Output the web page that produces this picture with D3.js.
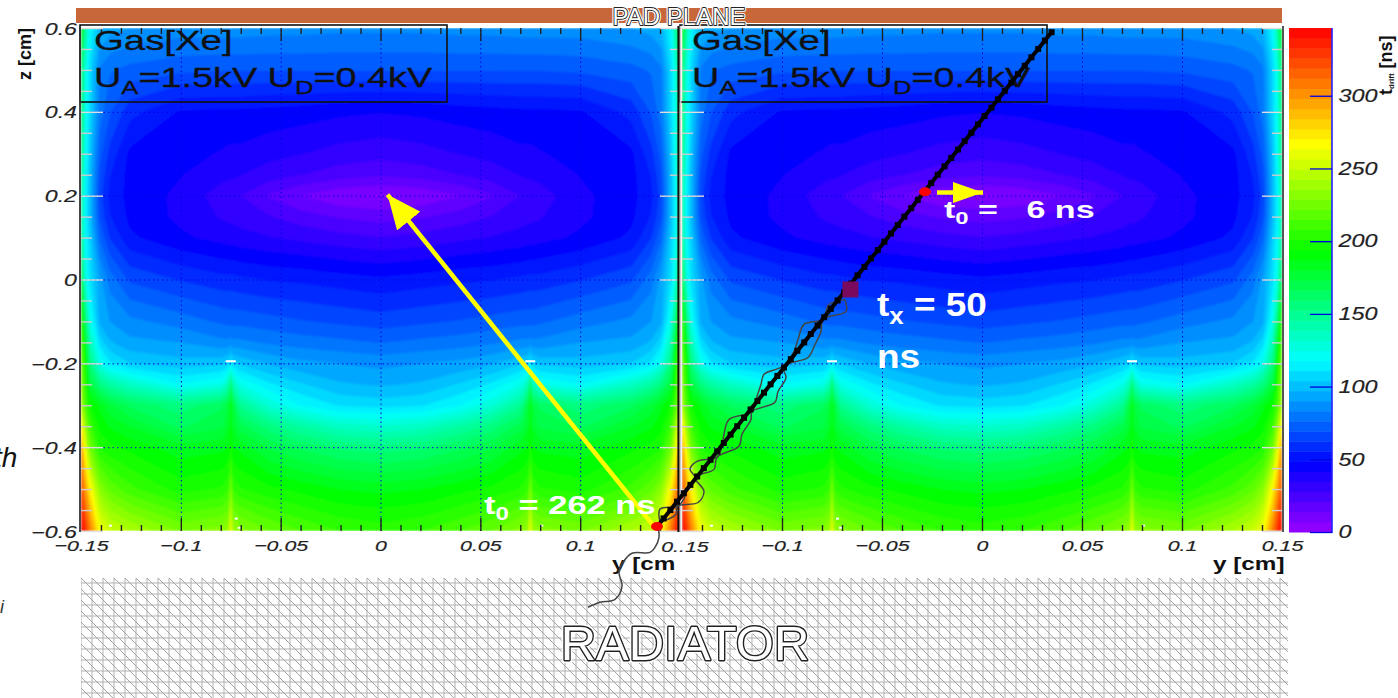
<!DOCTYPE html>
<html lang="en">
<head>
<meta charset="UTF-8">
<title>Drift time map</title>
<script src="https://cdnjs.cloudflare.com/ajax/libs/d3/7.8.5/d3.min.js"></script>
<style>
    html, body { margin: 0; padding: 0; background: #fff; overflow: hidden; }
    svg { display: block; font-family: "Liberation Sans", Arial, sans-serif; }
    .tick text { font-style: italic; fill: #222; stroke: #222; stroke-width: 0.15; }
    .domain { display: none; }
</style>
</head>
<body>
<div id="chart"></div>
<script>
// drift time grid: half of a cell, the other half is its mirror image
const gridY = [-0.15, -0.148, -0.1455, -0.1405, -0.1355, -0.1255, -0.1005, -0.0795, -0.076, -0.075, -0.074, -0.0705, -0.0555, -0.0405, -0.0205, 0];
const gridZ = [0.6, 0.5, 0.4, 0.3, 0.25, 0.2, 0.15, 0.1, 0, -0.1, -0.15, -0.2, -0.25, -0.3, -0.35, -0.4, -0.5, -0.6];
const driftTime = [
    [192, 150, 118,  97,  93,  90,  87,  87,  87,  87,  87,  87,  86,  86,  85,  85],
    [165, 130, 108,  82,  77,  74,  71,  70,  70,  70,  70,  70,  70,  70,  70,  70],
    [170, 125, 108,  80,  70,  58,  48,  47,  47,  47,  47,  47,  46,  45,  43,  42],
    [160, 125, 102,  72,  60,  47,  44,  41,  40,  40,  40,  40,  37,  35,  32,  30],
    [155, 120, 100,  68,  56,  46,  42,  37,  36,  36,  36,  35,  31,  28,  24,  22],
    [150, 118, 100,  65,  54,  46,  40,  31,  30,  30,  30,  28,  20,  14,   8,   6],
    [150, 118, 100,  68,  56,  47,  40,  34,  33,  33,  33,  32,  28,  24,  20,  18],
    [155, 120, 105,  75,  62,  50,  43,  39,  38,  38,  38,  37,  35,  33,  30,  28],
    [180, 130, 110,  92,  80,  68,  62,  58,  58,  58,  58,  57,  55,  54,  52,  50],
    [210, 165, 125,  95,  90,  85,  80,  75,  74,  74,  74,  74,  72,  70,  68,  66],
    [215, 185, 140, 108,  98,  92,  90,  85,  85,  86,  85,  85,  82,  80,  78,  76],
    [225, 200, 155, 125, 112, 104, 100, 102, 106, 116, 106, 103,  96,  92,  90,  88],
    [235, 205, 175, 155, 145, 135, 118, 125, 140, 165, 140, 125, 112, 105,  98,  96],
    [245, 215, 195, 185, 175, 165, 155, 165, 175, 188, 175, 150, 130, 118, 110, 108],
    [275, 240, 210, 192, 186, 180, 165, 172, 180, 192, 180, 170, 155, 145, 135, 132],
    [300, 262, 225, 200, 196, 192, 183, 185, 188, 198, 188, 185, 172, 165, 158, 155],
    [325, 300, 270, 232, 220, 210, 198, 202, 208, 232, 208, 202, 196, 192, 187, 185],
    [345, 335, 310, 265, 252, 243, 228, 232, 238, 270, 238, 232, 222, 215, 208, 205]
];

// colour palette of the bar
const paletteValues = [0, 47, 118, 192, 267, 346];
const paletteColors = ["#9900ff", "#0000ff", "#00ffff", "#00ff00", "#ffff00", "#ff0000"];
const bandCount = 50;
const barMax = 346.6;
const barTicks = [0, 50, 100, 150, 200, 250, 300];

// axes
const majorZ = [-0.6, -0.4, -0.2, 0, 0.2, 0.4, 0.6];
const minorZ = [-0.55, -0.5, -0.45, -0.35, -0.3, -0.25, -0.15, -0.1, -0.05, 0.05, 0.1, 0.15, 0.25, 0.3, 0.35, 0.45, 0.5, 0.55];
const majorY = [-0.15, -0.1, -0.05, 0, 0.05, 0.1, 0.15];
const minorY = [-0.14, -0.13, -0.12, -0.11, -0.09, -0.08, -0.07, -0.06, -0.04, -0.03, -0.02, -0.01,
    0.01, 0.02, 0.03, 0.04, 0.06, 0.07, 0.08, 0.09, 0.11, 0.12, 0.13, 0.14];
const leftLabels = [-0.15, -0.1, -0.05, 0, 0.05, 0.1];
const rightLabels = [-0.1, -0.05, 0, 0.05, 0.1, 0.15];

// anode wires and the small white specks next to them
const wireY = [-0.075, 0.075];
const specks = [[-0.136, -0.585], [-0.073, -0.568], [-0.0715, -0.59], [0.08, -0.585]];

// electron track, in the coordinates of the right hand cell
const trackY = [-0.1625, -0.1592, -0.1558, -0.1525, -0.1491, -0.1458, -0.1424, -0.1391, -0.1357, -0.1324,
    -0.1291, -0.1257, -0.1224, -0.119, -0.1157, -0.1123, -0.109, -0.1057, -0.1023, -0.099,
    -0.0956, -0.0923, -0.0889, -0.0856, -0.0822, -0.0789, -0.0756, -0.0722, -0.0689, -0.0655,
    -0.0622, -0.0588, -0.0555, -0.0521, -0.0488, -0.0455, -0.0421, -0.0388, -0.0354, -0.0321,
    -0.0287, -0.0254, -0.0221, -0.0187, -0.0154, -0.012, -0.0087, -0.0053, -0.002, 0.0013,
    0.0047, 0.008, 0.0114, 0.0147, 0.018, 0.0214, 0.0247, 0.0281, 0.0314, 0.0348];
const trackZ = [-0.59, -0.57, -0.55, -0.53, -0.51, -0.49, -0.47, -0.45, -0.43, -0.41,
    -0.39, -0.37, -0.35, -0.33, -0.31, -0.29, -0.27, -0.25, -0.23, -0.21,
    -0.19, -0.17, -0.15, -0.13, -0.11, -0.09, -0.07, -0.05, -0.03, -0.01,
    0.01, 0.03, 0.05, 0.07, 0.09, 0.11, 0.13, 0.15, 0.17, 0.19,
    0.21, 0.23, 0.25, 0.27, 0.29, 0.31, 0.33, 0.35, 0.37, 0.39,
    0.41, 0.43, 0.45, 0.47, 0.49, 0.51, 0.53, 0.55, 0.57, 0.59];

// the two twisted strands around the track and the tail into the radiator
const strandA = [[-0.161, -0.579], [-0.161, -0.548], [-0.1525, -0.541], [-0.149, -0.524], [-0.148, -0.501],
    [-0.1435, -0.472], [-0.146, -0.453], [-0.1425, -0.434], [-0.1325, -0.424], [-0.13, -0.398], [-0.129, -0.369],
    [-0.1265, -0.334], [-0.115, -0.315], [-0.1125, -0.279], [-0.1105, -0.25], [-0.109, -0.226], [-0.0995, -0.207],
    [-0.094, -0.172], [-0.092, -0.143], [-0.089, -0.107], [-0.0795, -0.095], [-0.0765, -0.06], [-0.0685, -0.048]];
const strandB = [[-0.161, -0.579], [-0.153, -0.56], [-0.1525, -0.541], [-0.142, -0.532], [-0.139, -0.505],
    [-0.1435, -0.472], [-0.134, -0.453], [-0.1325, -0.424], [-0.1215, -0.398], [-0.12, -0.369], [-0.1155, -0.334],
    [-0.115, -0.315], [-0.1035, -0.293], [-0.102, -0.267], [-0.098, -0.234], [-0.0995, -0.207], [-0.087, -0.186],
    [-0.0835, -0.155], [-0.0805, -0.124], [-0.0795, -0.095], [-0.068, -0.076], [-0.0685, -0.048]];
const tail = [[-0.162, -0.589], [-0.1615, -0.615], [-0.1635, -0.639], [-0.166, -0.651], [-0.175, -0.653],
    [-0.1795, -0.675], [-0.1815, -0.698], [-0.18, -0.732], [-0.1835, -0.763], [-0.191, -0.77], [-0.197, -0.782]];

// start of the track and the point the small arrow leaves from
const redDots = [[-0.1625, -0.589], [-0.0285, 0.2092]];

const width = 1398;
const height = 698;
const plotTop = 28;
const plotBottom = 531;

const svg = d3.select("#chart").append("svg").attr("width", width).attr("height", height);
const defs = svg.append("defs");

const soften = defs.append("filter").attr("id", "soften")
    .attr("filterUnits", "userSpaceOnUse")
    .attr("x", 0).attr("y", 0).attr("width", width).attr("height", height);
soften.append("feGaussianBlur").attr("stdDeviation", 0.9);

const zScale = d3.scaleLinear().domain([-0.6, 0.6]).range([plotBottom, plotTop]);
const leftY = d3.scaleLinear().domain([-0.15, 0.15]).range([81, 680]);
const rightY = d3.scaleLinear().domain([-0.15, 0.15]).range([682, 1282]);
const barScale = d3.scaleLinear().domain([0, barMax]).range([532, 28]);
const palette = d3.scaleLinear().domain(paletteValues).range(paletteColors).clamp(true);
const bandSize = barMax / bandCount;

function fmt(d) {
    return String(d).replace("-", "\u2212");
}

// mirror the half grid so a whole cell can be contoured
const fullY = gridY.concat(gridY.slice(0, -1).reverse().map(d => -d));
const cells = [];
driftTime.forEach(row => {
    row.concat(row.slice(0, -1).reverse()).forEach(v => cells.push(v));
});
const nx = fullY.length;
const ny = gridZ.length;
const bands = d3.contours()
    .size([nx, ny])
    .thresholds(d3.range(1, bandCount).map(i => i * bandSize))
    .smooth(true)(cells);

function drawPanel(id, yScale, boxX, textX) {
    const clipRange = yScale.range();
    defs.append("clipPath").attr("id", id)
        .append("rect")
        .attr("x", clipRange[0]).attr("y", plotTop)
        .attr("width", clipRange[1] - clipRange[0]).attr("height", plotBottom - plotTop);

    const g = svg.append("g");
    const field = g.append("g").attr("clip-path", `url(#${id})`);
    const soft = field.append("g").attr("filter", "url(#soften)");

    // contour vertices live at index + 0.5 in grid space
    const colScale = d3.scaleLinear().domain(d3.range(nx)).range(fullY.map(yScale)).clamp(true);
    const rowScale = d3.scaleLinear().domain(d3.range(ny)).range(gridZ.map(zScale)).clamp(true);
    const path = d3.geoPath(d3.geoTransform({
        point(x, y) { this.stream.point(colScale(x - 0.5), rowScale(y - 0.5)); }
    }));

    soft.append("rect")
        .attr("x", clipRange[0]).attr("y", plotTop)
        .attr("width", clipRange[1] - clipRange[0]).attr("height", plotBottom - plotTop)
        .attr("fill", palette(bandSize / 2));
    soft.selectAll("path.band")
        .data(bands)
        .enter().append("path")
        .attr("class", "band")
        .attr("d", path)
        .attr("fill", d => palette(d.value + bandSize / 2));

    // wires and specks
    field.selectAll("rect.wire")
        .data(wireY)
        .enter().append("rect")
        .attr("class", "wire")
        .attr("x", d => yScale(d) - 5).attr("y", zScale(-0.195) - 1)
        .attr("width", 10).attr("height", 2).attr("fill", "#fff");
    field.selectAll("rect.speck")
        .data(specks)
        .enter().append("rect")
        .attr("class", "speck")
        .attr("x", d => yScale(d[0])).attr("y", d => zScale(d[1]))
        .attr("width", 3).attr("height", 2).attr("fill", "#fff");

    // dotted grid
    g.append("g")
        .attr("transform", `translate(0,${plotBottom})`)
        .call(d3.axisBottom(yScale).tickValues(majorY.slice(1, -1)).tickSize(-(plotBottom - plotTop)).tickFormat(""))
        .selectAll("line").attr("stroke", "#0000e0").attr("stroke-width", 1).attr("stroke-dasharray", "1.5,3");
    g.append("g")
        .attr("transform", `translate(${clipRange[0]},0)`)
        .call(d3.axisRight(zScale).tickValues(majorZ.slice(1, -1)).tickSize(clipRange[1] - clipRange[0]).tickFormat(""))
        .selectAll("line").attr("stroke", "#0000e0").attr("stroke-width", 1).attr("stroke-dasharray", "1.5,3");

    // ticks on all four sides
    function ticks(axis, transform, color, w) {
        g.append("g").attr("transform", transform)
            .call(axis.tickFormat(""))
            .selectAll("line").attr("stroke", color).attr("stroke-width", w);
    }
    ticks(d3.axisTop(yScale).tickValues(majorY.slice(1, -1)).tickSize(-13), `translate(0,${plotTop})`, "#222", 1.4);
    ticks(d3.axisTop(yScale).tickValues(minorY).tickSize(-6), `translate(0,${plotTop})`, "#222", 1.4);
    ticks(d3.axisBottom(yScale).tickValues(majorY.slice(1, -1)).tickSize(-13), `translate(0,${plotBottom})`, "#222", 1.4);
    ticks(d3.axisBottom(yScale).tickValues(minorY).tickSize(-6), `translate(0,${plotBottom})`, "#222", 1.4);
    ticks(d3.axisLeft(zScale).tickValues(majorZ).tickSize(-22), `translate(${clipRange[0]},0)`, "#ddd", 1.4);
    ticks(d3.axisLeft(zScale).tickValues(minorZ).tickSize(-11), `translate(${clipRange[0]},0)`, "#ccc", 1.4);
    ticks(d3.axisRight(zScale).tickValues(majorZ).tickSize(-20), `translate(${clipRange[1]},0)`, "#ddd", 1.4);
    ticks(d3.axisRight(zScale).tickValues(minorZ).tickSize(-10), `translate(${clipRange[1]},0)`, "#ccc", 1.4);

    // legend box
    g.append("rect")
        .attr("x", boxX).attr("y", 25).attr("width", 367).attr("height", 77)
        .attr("fill", "none").attr("stroke", "#111").attr("stroke-width", 1.6);
    g.append("text")
        .attr("transform", `translate(${textX},50) scale(1.37,1)`)
        .attr("font-size", 28).attr("fill", "#111").attr("stroke", "#111").attr("stroke-width", 0.3)
        .text("Gas[Xe]");
    const ua = g.append("text")
        .attr("transform", `translate(${textX},87) scale(1.35,1)`)
        .attr("font-size", 28).attr("fill", "#111").attr("stroke", "#111").attr("stroke-width", 0.3);
    ua.append("tspan").text("U");
    ua.append("tspan").attr("font-size", 19).attr("dy", 7).text("A");
    ua.append("tspan").attr("dy", -7).text("=1.5kV U");
    ua.append("tspan").attr("font-size", 19).attr("dy", 7).text("D");
    ua.append("tspan").attr("dy", -7).text("=0.4kV");
}

// radiator mesh
const mesh = svg.append("g");
defs.append("clipPath").attr("id", "meshClip")
    .append("rect").attr("x", 81).attr("y", 578).attr("width", 1207).attr("height", 120);
const meshLines = mesh.append("g").attr("clip-path", "url(#meshClip)");
meshLines.selectAll("line.v").data(d3.range(81, 1290, 11)).enter().append("line")
    .attr("x1", d => d).attr("x2", d => d).attr("y1", 578).attr("y2", 698)
    .attr("stroke", "#c4c4c4").attr("stroke-width", 1.3);
meshLines.selectAll("line.h").data(d3.range(583, 700, 11)).enter().append("line")
    .attr("x1", 81).attr("x2", 1288).attr("y1", d => d).attr("y2", d => d)
    .attr("stroke", "#b0b0b0").attr("stroke-width", 1.2);
meshLines.selectAll("line.d").data(d3.range(81 - 132, 1290, 11)).enter().append("line")
    .attr("x1", d => d).attr("x2", d => d + 121).attr("y1", 578).attr("y2", 699)
    .attr("stroke", "#a4a4a4").attr("stroke-width", 1);

drawPanel("clipLeft", leftY, 80, 94);
drawPanel("clipRight", rightY, 680, 692);

// panel frames
const frames = [[80, "#333", 1.8], [678.5, "#111", 2.2], [680.5, "#ccc", 1.6], [1283, "#555", 2]];
svg.selectAll("line.frame").data(frames).enter().append("line")
    .attr("class", "frame")
    .attr("x1", d => d[0]).attr("x2", d => d[0])
    .attr("y1", plotTop - 2).attr("y2", plotBottom + 1)
    .attr("stroke", d => d[1]).attr("stroke-width", d => d[2]);

// tick labels
const zLabels = svg.append("g")
    .attr("transform", "translate(77,1)")
    .call(d3.axisLeft(zScale).tickValues(majorZ).tickSize(0).tickPadding(0).tickFormat(fmt));
zLabels.selectAll("text").attr("font-size", 16).attr("transform", "scale(1.45,1)");
const leftLabelAxis = svg.append("g")
    .attr("transform", `translate(0,${plotBottom})`)
    .call(d3.axisBottom(leftY).tickValues(leftLabels).tickSize(0).tickPadding(9).tickFormat(fmt));
leftLabelAxis.selectAll("text").attr("font-size", 15.5).attr("transform", "scale(1.38,1)");
const rightLabelAxis = svg.append("g")
    .attr("transform", `translate(0,${plotBottom})`)
    .call(d3.axisBottom(rightY).tickValues(rightLabels).tickSize(0).tickPadding(9).tickFormat(fmt));
rightLabelAxis.selectAll("text").attr("font-size", 15.5).attr("transform", "scale(1.38,1)");
svg.append("text")
    .attr("transform", "translate(685,552) scale(1.38,1)")
    .attr("text-anchor", "middle").attr("font-size", 15.5).attr("font-style", "italic")
    .attr("fill", "#222").attr("stroke", "#222").attr("stroke-width", 0.15)
    .text("0..15");

// axis titles
svg.append("text")
    .attr("transform", "translate(31,28) rotate(-90)")
    .attr("text-anchor", "end").attr("font-size", 18).attr("font-weight", "bold").attr("fill", "#111")
    .text("z [cm]");
svg.append("text")
    .attr("transform", "translate(1213,570) scale(1.35,1)")
    .attr("font-size", 18).attr("font-weight", "bold").attr("fill", "#111")
    .text("y [cm]");
svg.append("text")
    .attr("transform", "translate(612,570) scale(1.35,1)")
    .attr("font-size", 18).attr("font-weight", "bold").attr("fill", "#111")
    .text("y [cm");

// colour bar
const bar = svg.append("g");
bar.selectAll("rect").data(d3.range(bandCount)).enter().append("rect")
    .attr("x", 1289).attr("width", 43)
    .attr("y", i => barScale((i + 1) * bandSize))
    .attr("height", i => barScale(i * bandSize) - barScale((i + 1) * bandSize) + 0.5)
    .attr("fill", i => palette((i + 0.5) * bandSize));
bar.append("line")
    .attr("x1", 1332).attr("x2", 1332).attr("y1", 28).attr("y2", 533)
    .attr("stroke", "#2222ff").attr("stroke-width", 1.6);
const barAxis = svg.append("g")
    .attr("transform", "translate(1332,0)")
    .call(d3.axisRight(barScale).tickValues(barTicks).tickSize(-22).tickPadding(5));
barAxis.selectAll("line").attr("stroke", "#0000e0").attr("stroke-width", 1.3);
barAxis.selectAll("text").attr("font-size", 18).attr("transform", "scale(1.3,1)");
const barTitle = svg.append("text")
    .attr("transform", "translate(1392,95) rotate(-90)")
    .attr("font-size", 18).attr("font-weight", "bold").attr("fill", "#111");
barTitle.append("tspan").text("t");
barTitle.append("tspan").attr("font-size", 8).attr("dy", 2).text("drift");
barTitle.append("tspan").attr("dy", -2).attr("dx", 5).text("[ns]");

// pad plane
svg.append("rect").attr("x", 76).attr("y", 8).attr("width", 1206).attr("height", 15).attr("fill", "#c8673a");
function outlined(x, y, size, label, dark, halo) {
    svg.append("text").attr("x", x).attr("y", y).attr("text-anchor", "middle").attr("font-size", size)
        .attr("fill", "#fff").attr("stroke", "#fff").attr("stroke-width", halo).attr("stroke-linejoin", "round")
        .text(label);
    svg.append("text").attr("x", x).attr("y", y).attr("text-anchor", "middle").attr("font-size", size)
        .attr("fill", "#fff").attr("stroke", "#222").attr("stroke-width", dark).attr("paint-order", "stroke")
        .attr("stroke-linejoin", "round")
        .text(label);
}
outlined(679, 25, 24, "PAD PLANE", 1.8, 4);
outlined(685, 660, 49, "RADIATOR", 2.8, 6);

// arrows
function arrowHead(id, length, w) {
    defs.append("marker").attr("id", id)
        .attr("markerUnits", "userSpaceOnUse")
        .attr("viewBox", `0 ${-w / 2} ${length} ${w}`)
        .attr("markerWidth", length).attr("markerHeight", w)
        .attr("refX", length).attr("refY", 0).attr("orient", "auto")
        .append("path").attr("d", `M0,${-w / 2}L${length},0L0,${w / 2}Z`).attr("fill", "#ffff00");
}
arrowHead("bigHead", 34, 30);
arrowHead("smallHead", 30, 21);
svg.append("line")
    .attr("x1", leftY(0.137)).attr("y1", zScale(-0.589))
    .attr("x2", leftY(0.0035)).attr("y2", zScale(0.2026))
    .attr("stroke", "#ffff00").attr("stroke-width", 4.5).attr("marker-end", "url(#bigHead)");
svg.append("line")
    .attr("x1", rightY(-0.0225)).attr("y1", zScale(0.2074))
    .attr("x2", rightY(0.0005)).attr("y2", zScale(0.2074))
    .attr("stroke", "#ffff00").attr("stroke-width", 4.5).attr("marker-end", "url(#smallHead)");

// track
const trackPoints = trackY.map((d, i) => [d, trackZ[i]]);
const strands = [strandA, strandB, tail];
svg.selectAll("path.strand").data(strands).enter().append("path")
    .attr("class", "strand")
    .attr("d", d3.line().x(d => rightY(d[0])).y(d => zScale(d[1])).curve(d3.curveCatmullRom))
    .attr("fill", "none").attr("stroke", "#444").attr("stroke-width", 1.5);
svg.append("path").datum(trackPoints)
    .attr("d", d3.line().x(d => rightY(d[0])).y(d => zScale(d[1])))
    .attr("fill", "none").attr("stroke", "#000").attr("stroke-width", 4);
svg.selectAll("path.hit").data(trackPoints).enter().append("path")
    .attr("class", "hit")
    .attr("transform", d => `translate(${rightY(d[0])},${zScale(d[1])})`)
    .attr("d", d3.symbol(d3.symbolSquare, 36)())
    .attr("fill", "#000");

svg.selectAll("ellipse").data(redDots).enter().append("ellipse")
    .attr("cx", d => rightY(d[0])).attr("cy", d => zScale(d[1]))
    .attr("rx", 6).attr("ry", 4.5).attr("fill", "#ff0000");
svg.append("path")
    .attr("transform", `translate(${rightY(-0.0658)},${zScale(-0.0238)})`)
    .attr("d", d3.symbol(d3.symbolSquare, 256)())
    .attr("fill", "#7a0a5e");

// annotations
function timeLabel(x, y, sx, size, letter, rest) {
    const t = svg.append("text")
        .attr("transform", `translate(${x},${y}) scale(${sx},1)`)
        .attr("font-size", size).attr("font-weight", "bold").attr("fill", "#fff")
        .style("white-space", "pre");
    t.append("tspan").text("t");
    t.append("tspan").attr("font-size", size * 0.7).attr("dy", size * 0.25).text(letter);
    t.append("tspan").attr("dy", -size * 0.25).text(rest);
}
timeLabel(484, 514, 1.38, 25, "0", " = 262 ns");
timeLabel(944, 218, 1.42, 24, "0", " =   6 ns");
timeLabel(877, 316, 1.12, 33, "x", " = 50");
svg.append("text")
    .attr("transform", "translate(877,368) scale(1.12,1)")
    .attr("font-size", 33).attr("font-weight", "bold").attr("fill", "#fff")
    .text("ns");

// bits of text cut off at the left edge
svg.append("text").attr("x", -6).attr("y", 467).attr("font-size", 28).attr("font-style", "italic").attr("fill", "#111").text("th");
svg.append("text").attr("x", 0).attr("y", 613).attr("font-size", 18).attr("font-style", "italic").attr("fill", "#333").text("i");
</script>
</body>
</html>
